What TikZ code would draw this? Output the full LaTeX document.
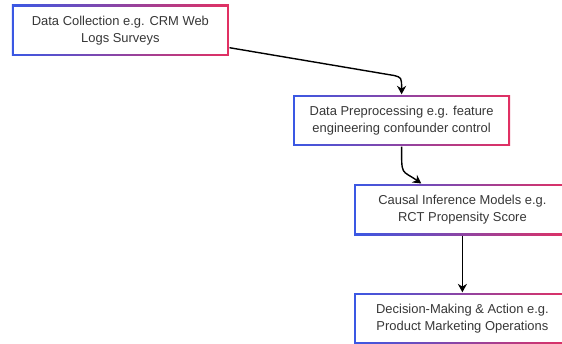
\documentclass[tikz,border=0pt]{standalone}
\usepackage{fontspec}
\setmainfont{Liberation Sans}
\usepackage{tikz}
\usetikzlibrary{arrows.meta}
\usepackage{xcolor}
\definecolor{edgeblue}{RGB}{58,88,228}
\definecolor{edgered}{RGB}{226,48,98}
\definecolor{labelgray}{RGB}{55,55,55}

\begin{document}
\begin{tikzpicture}[font=\fontsize{9.2}{11.8}\selectfont, >={Stealth[length=6pt,width=6.5pt]}, line width=1pt,
  every node/.style={rectangle, align=center, text=labelgray, minimum width=5.42cm, minimum height=1.27cm,
    left color=edgeblue, right color=edgered,
    path picture={\fill[white] ([shift={(1.1pt,1.1pt)}]path picture bounding box.south west) rectangle ([shift={(-1.1pt,-1.1pt)}]path picture bounding box.north east);}}]
\useasboundingbox (0,0) rectangle (14.05,-8.6);
\node (DC) at (3.01,-0.76) {Data Collection e.g. CRM Web\\ Logs Surveys};
\node (DP) at (10.04,-3.01) {Data Preprocessing e.g. feature\\ engineering confounder control};
\node (CI) at (11.56,-5.24) {Causal Inference Models e.g.\\ RCT Propensity Score};
\node (DM) at (11.56,-7.96) {Decision-Making \& Action e.g.\\ Product Marketing Operations};
\draw[->] ([yshift=0.22cm]DC.south east) -- ([xshift=-0.19cm,yshift=0.47cm]DP.north) .. controls ([yshift=0.42cm]DP.north) .. (DP.north);
\draw[->] (DP.south) .. controls ([yshift=-0.75cm]DP.south) and ([xshift=1.2cm,yshift=0.35cm]CI.north west) .. ([xshift=1.7cm]CI.north west);
\draw[->] (CI.south) -- (DM.north);
\end{tikzpicture}
\end{document}
